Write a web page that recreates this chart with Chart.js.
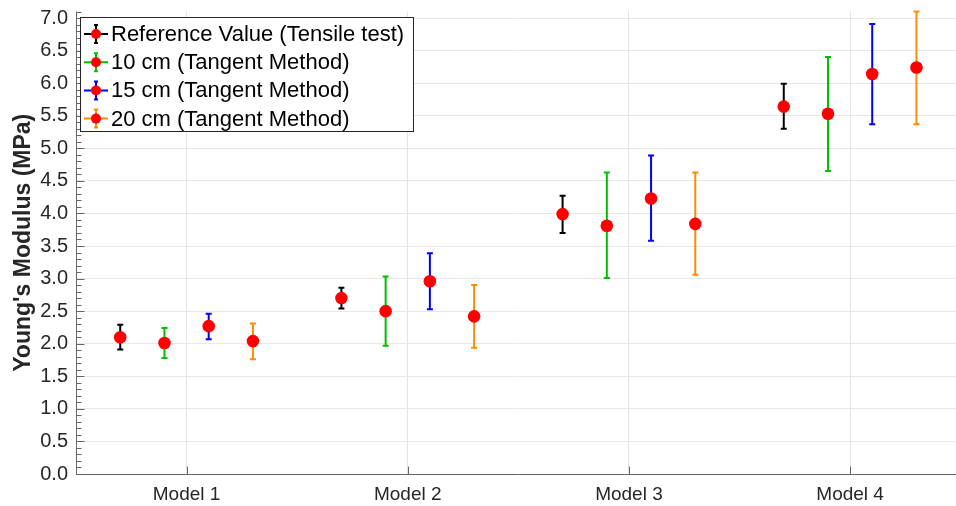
<!DOCTYPE html>
<html>
<head>
<meta charset="utf-8">
<script src="https://cdn.jsdelivr.net/npm/chart.js@4/dist/chart.umd.min.js"></script>
<style>
  html, body { margin: 0; padding: 0; background: #fff; overflow: hidden; }
  #wrap { width: 967px; height: 506px; }
</style>
</head>
<body>
<div id="wrap"><canvas id="c" width="967" height="506"></canvas></div>
<script>
// Categories and tick labels
const categories = ['Model 1', 'Model 2', 'Model 3', 'Model 4'];
const yTicks = [0, 0.5, 1, 1.5, 2, 2.5, 3, 3.5, 4, 4.5, 5, 5.5, 6, 6.5, 7];

// Series: mean value with lower / upper error limits (MPa)
const seriesNames = [
  'Reference Value (Tensile test)',
  '10 cm (Tangent Method)',
  '15 cm (Tangent Method)',
  '20 cm (Tangent Method)'
];
const refMean = [2.10, 2.70, 3.99, 5.64];
const refLow  = [1.91, 2.54, 3.70, 5.30];
const refHigh = [2.29, 2.86, 4.27, 5.99];

const cm10Mean = [2.01, 2.50, 3.81, 5.53];
const cm10Low  = [1.78, 1.97, 3.01, 4.65];
const cm10High = [2.24, 3.03, 4.63, 6.40];

const cm15Mean = [2.27, 2.96, 4.23, 6.14];
const cm15Low  = [2.07, 2.53, 3.58, 5.37];
const cm15High = [2.46, 3.39, 4.89, 6.91];

const cm20Mean = [2.04, 2.42, 3.84, 6.24];
const cm20Low  = [1.76, 1.94, 3.06, 5.37];
const cm20High = [2.31, 2.90, 4.63, 7.10];

const barColors = ['#000000', '#00bf00', '#0000ff', '#ff8c00'];
const groupOffsets = [-0.3, -0.1, 0.1, 0.3];

const allMeans = [refMean, cm10Mean, cm15Mean, cm20Mean];
const allLows = [refLow, cm10Low, cm15Low, cm20Low];
const allHighs = [refHigh, cm10High, cm15High, cm20High];

const FONT = '"Liberation Sans", Arial, sans-serif';

const datasets = seriesNames.map((name, s) => ({
  label: name,
  data: allMeans[s].map((v, i) => ({ x: i + 1 + groupOffsets[s], y: v, lo: allLows[s][i], hi: allHighs[s][i] })),
  errColor: barColors[s],
  pointRadius: 6.3,
  pointHoverRadius: 6.3,
  pointBackgroundColor: '#ff0000',
  pointBorderWidth: 0,
  showLine: false,
  clip: false
}));

// Vertical error bars with caps, drawn below the markers
const errorBars = {
  id: 'errorBars',
  beforeDatasetsDraw(chart) {
    const ctx = chart.ctx, xs = chart.scales.x, ys = chart.scales.y;
    ctx.save();
    chart.data.datasets.forEach(ds => {
      ctx.strokeStyle = ds.errColor;
      ctx.lineWidth = 2;
      ds.data.forEach(p => {
        const px = xs.getPixelForValue(p.x);
        const top = ys.getPixelForValue(p.hi);
        const bot = ys.getPixelForValue(p.lo);
        ctx.beginPath();
        ctx.moveTo(px, top); ctx.lineTo(px, bot);
        ctx.moveTo(px - 3, top); ctx.lineTo(px + 3, top);
        ctx.moveTo(px - 3, bot); ctx.lineTo(px + 3, bot);
        ctx.stroke();
      });
    });
    ctx.restore();
  }
};

// Axis lines with inward major / minor tick marks and category labels
const axisFrame = {
  id: 'axisFrame',
  afterDatasetsDraw(chart) {
    const ctx = chart.ctx, xs = chart.scales.x, ys = chart.scales.y, a = chart.chartArea;
    ctx.save();
    ctx.strokeStyle = '#666666';
    ctx.lineWidth = 1;
    const L = Math.round(a.left) + 0.5, B = Math.round(a.bottom) + 0.5;
    ctx.beginPath();
    ctx.moveTo(L, a.top); ctx.lineTo(L, B); ctx.lineTo(a.right, B);
    // minor ticks every 0.1
    for (let k = 0; k <= 71; k++) {
      const y = Math.round(ys.getPixelForValue(k / 10)) + 0.5;
      const len = (k % 5 === 0) ? 8 : 5;
      ctx.moveTo(L, y); ctx.lineTo(L + len, y);
    }
    // category ticks
    for (let i = 1; i <= categories.length; i++) {
      const x = Math.round(xs.getPixelForValue(i)) + 0.5;
      ctx.moveTo(x, B); ctx.lineTo(x, B - 8);
    }
    ctx.stroke();
    ctx.fillStyle = '#262626';
    ctx.font = '19px ' + FONT;
    ctx.textAlign = 'center';
    ctx.textBaseline = 'middle';
    categories.forEach((c, i) => {
      ctx.fillText(c, xs.getPixelForValue(i + 1), a.bottom + 21);
    });
    ctx.restore();
  }
};

// Legend box in the upper-left corner
const legendBox = {
  id: 'legendBox',
  afterDraw(chart) {
    const ctx = chart.ctx;
    const bx = 80.5, by = 17.5, bw = 333, bh = 114;
    ctx.save();
    ctx.fillStyle = '#ffffff';
    ctx.fillRect(bx, by, bw, bh);
    ctx.strokeStyle = '#262626';
    ctx.lineWidth = 1;
    ctx.strokeRect(bx, by, bw, bh);
    ctx.font = '22px ' + FONT;
    ctx.textBaseline = 'middle';
    chart.data.datasets.forEach((ds, i) => {
      const cy = 34 + i * 28.2;
      ctx.strokeStyle = ds.errColor;
      ctx.lineWidth = 2;
      ctx.beginPath();
      ctx.moveTo(84, cy); ctx.lineTo(108, cy);
      ctx.moveTo(96, cy - 9); ctx.lineTo(96, cy + 9);
      ctx.moveTo(94, cy - 9); ctx.lineTo(98, cy - 9);
      ctx.moveTo(94, cy + 9); ctx.lineTo(98, cy + 9);
      ctx.stroke();
      ctx.fillStyle = '#ff0000';
      ctx.beginPath();
      ctx.arc(96, cy, 5, 0, Math.PI * 2);
      ctx.fill();
      ctx.fillStyle = '#000000';
      ctx.fillText(ds.label, 111, cy + 1);
    });
    ctx.restore();
  }
};

function zeroPadding(scale) {
  scale.paddingLeft = 0; scale.paddingRight = 0;
  scale.paddingTop = 0; scale.paddingBottom = 0;
}

new Chart(document.getElementById('c'), {
  type: 'scatter',
  data: { datasets },
  plugins: [errorBars, axisFrame, legendBox],
  options: {
    responsive: false,
    animation: false,
    layout: { padding: { top: 11.5, right: 0, left: 0, bottom: 0 } },
    plugins: { legend: { display: false }, tooltip: { enabled: false } },
    scales: {
      x: {
        type: 'linear',
        min: 0.5,
        max: 4.5,
        afterBuildTicks(scale) { scale.ticks = categories.map((c, i) => ({ value: i + 1 })); },
        afterFit(scale) { scale.height = 32; zeroPadding(scale); },
        ticks: { display: false },
        grid: { color: '#e3e3e3', lineWidth: 1, drawTicks: false },
        border: { display: false }
      },
      y: {
        min: 0,
        max: 7.1,
        afterBuildTicks(scale) { scale.ticks = yTicks.map(v => ({ value: v })); },
        afterFit(scale) { scale.width = 76; zeroPadding(scale); },
        ticks: {
          callback: (v) => Number(v).toFixed(1),
          color: '#262626',
          font: { family: FONT, size: 20 },
          padding: 8,
          autoSkip: false
        },
        grid: { color: '#e8e8e8', lineWidth: 1, drawTicks: false },
        border: { display: false },
        title: {
          display: true,
          text: "Young's Modulus (MPa)",
          color: '#262626',
          font: { family: FONT, size: 23, weight: 'bold' },
          padding: { top: 10, bottom: 2 }
        }
      }
    }
  }
});
</script>
</body>
</html>
